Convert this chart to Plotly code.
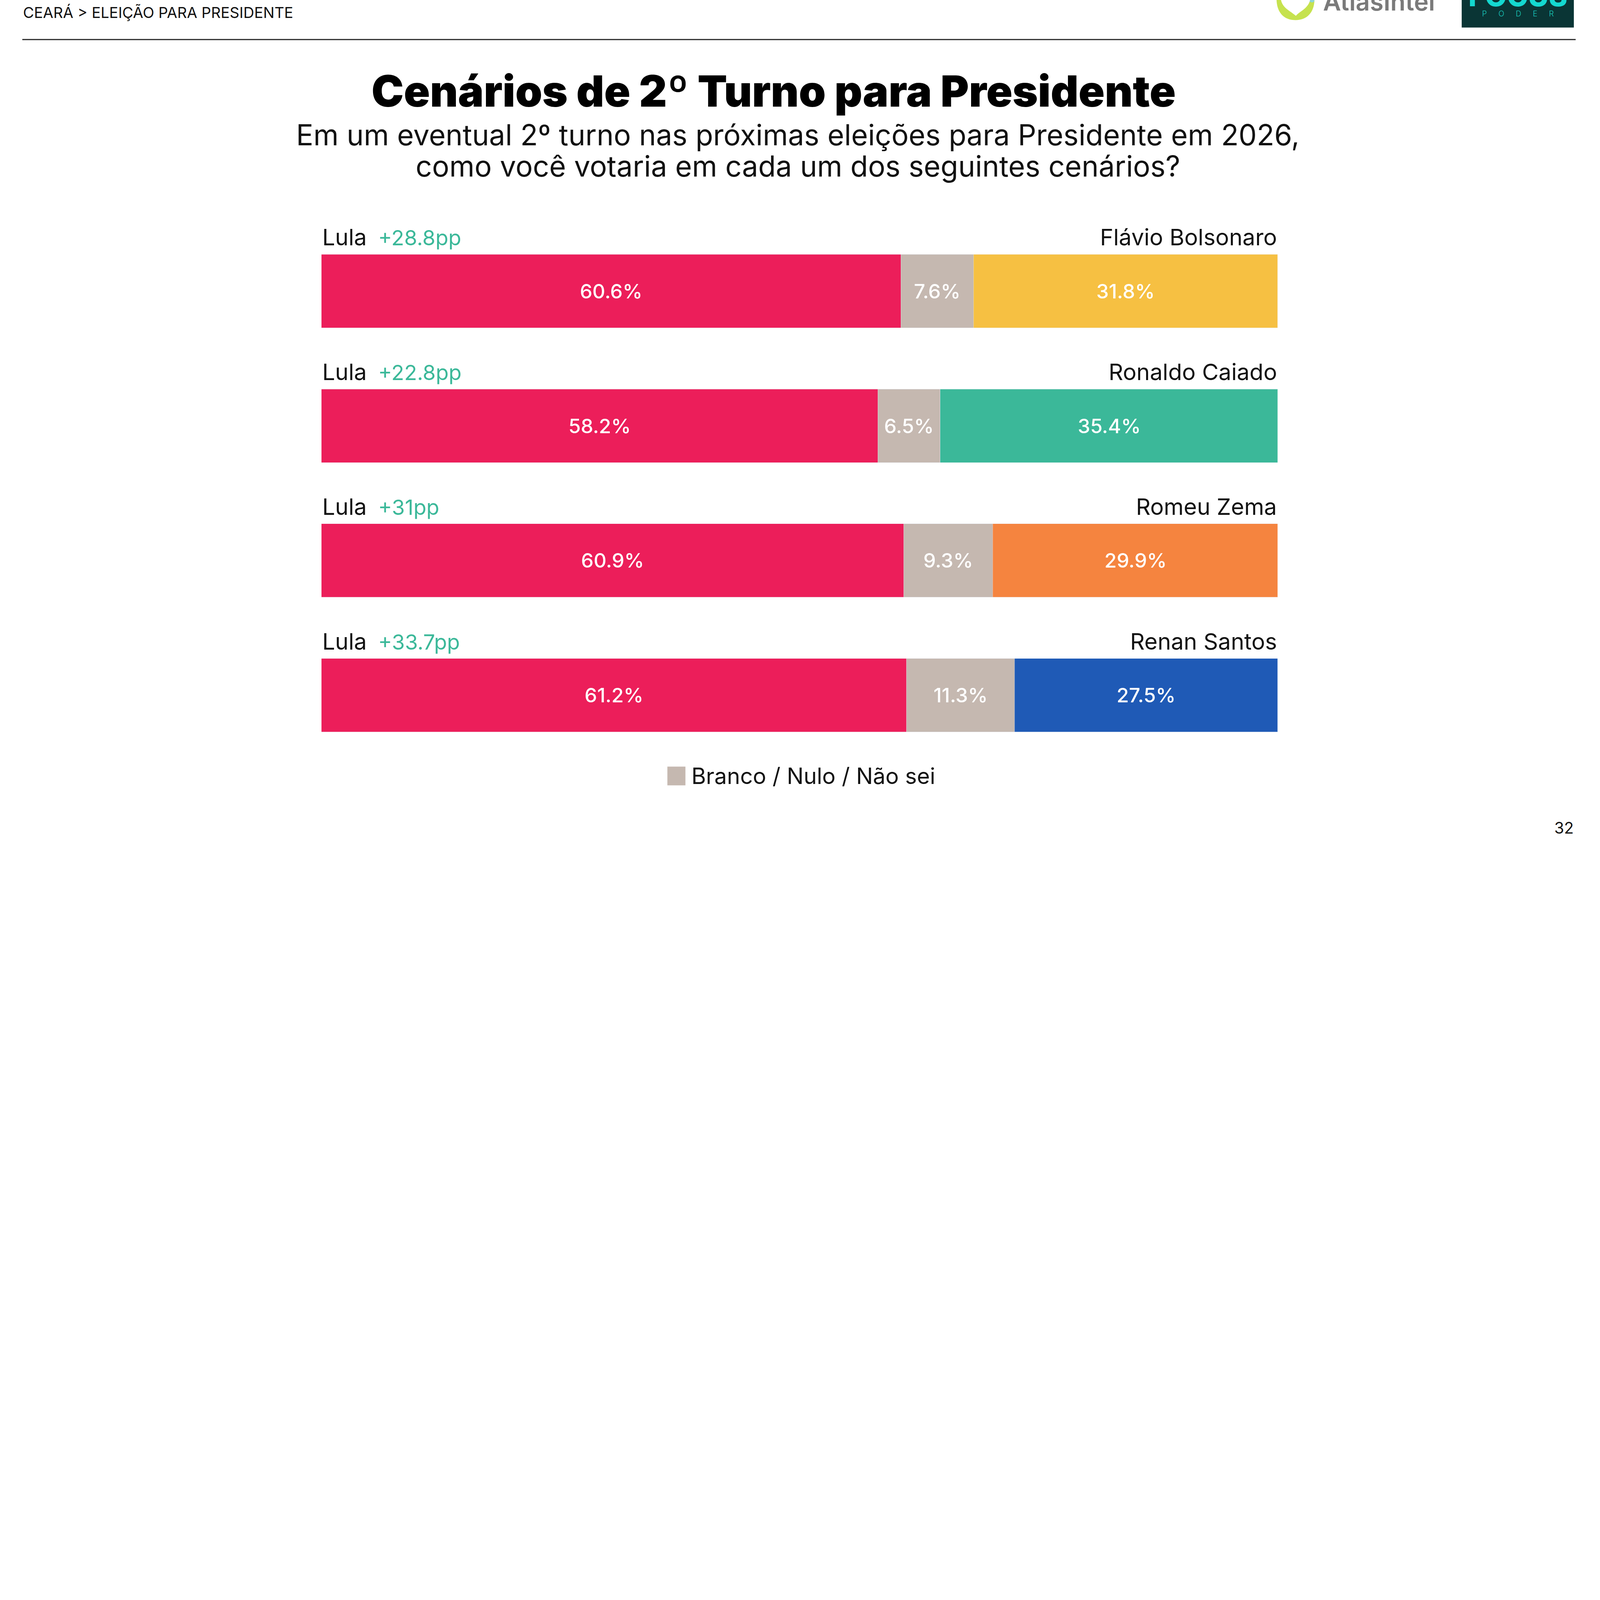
import plotly.graph_objs as go

# data
opponents = ['Flávio Bolsonaro', 'Ronaldo Caiado', 'Romeu Zema', 'Renan Santos']
lula = [60.6, 58.2, 60.9, 61.2]
branco = [7.6, 6.5, 9.3, 11.3]
opp = [31.8, 35.4, 29.9, 27.5]
margins = ['+28.8pp', '+22.8pp', '+31pp', '+33.7pp']
opp_colors = ['#f6c042', '#3bb899', '#f5843f', '#1f5ab6']
rows = [0, 1, 2, 3]

# reference pixel space; the browser viewport is clamped to 4096 css px wide
W, H = 7890, 4112
FIG_W = 4096
S = FIG_W / W
FONT = 'Inter, Lato, sans-serif'
RED = '#ec1e5a'
GRAY = '#c5b8b0'
GREEN = '#3bb899'


def px(x, y):
    # reference pixel -> paper coords
    return x / W, 1 - y / H


def fs(size):
    return round(size * S, 1)


def pct(vals):
    return ['%.1f%%' % v for v in vals]


bar_font = dict(family=FONT, size=fs(98), color='white', weight=500)

data = [
    go.Bar(y=rows, x=lula, orientation='h', name='Lula', marker_color=RED,
           text=pct(lula), textposition='inside', insidetextanchor='middle',
           textfont=bar_font, constraintext='none', width=0.545),
    go.Bar(y=rows, x=branco, orientation='h', name='Branco / Nulo / Não sei',
           marker_color=GRAY, text=pct(branco), textposition='inside',
           insidetextanchor='middle', textfont=bar_font, constraintext='none',
           width=0.545),
    go.Bar(y=rows, x=opp, orientation='h', name='Adversário',
           marker_color=opp_colors, text=pct(opp), textposition='inside',
           insidetextanchor='middle', textfont=bar_font, constraintext='none',
           width=0.545),
]

annotations = []
for i in rows:
    annotations.append(dict(
        x=0, y=i - 0.40, xref='x', yref='y', xanchor='left', yanchor='middle',
        text="Lula\u2002<span style='color:%s;font-size:%spx'>%s</span>" % (GREEN, fs(104), margins[i]),
        showarrow=False, font=dict(family=FONT, size=fs(112), color='#111111')))
    annotations.append(dict(
        x=100, y=i - 0.40, xref='x', yref='y', xanchor='right', yanchor='middle',
        text=opponents[i], showarrow=False,
        font=dict(family=FONT, size=fs(112), color='#111111')))

# header / titles
x, y = px(110, 62)
annotations.append(dict(x=x, y=y, xref='paper', yref='paper', xanchor='left', yanchor='middle',
                        text='CEARÁ &gt; ELEIÇÃO PARA PRESIDENTE', showarrow=False,
                        font=dict(family=FONT, size=fs(74), color='#111111')))
x, y = px(3815, 449)
annotations.append(dict(x=x, y=y, xref='paper', yref='paper', xanchor='center', yanchor='middle',
                        text='Cenários de 2º Turno para Presidente', showarrow=False,
                        font=dict(family=FONT, size=fs(213), color='#000000', weight=900)))
x, y = px(3935, 665)
annotations.append(dict(x=x, y=y, xref='paper', yref='paper', xanchor='center', yanchor='middle',
                        text='Em um eventual 2º turno nas próximas eleições para Presidente em 2026,',
                        showarrow=False, font=dict(family=FONT, size=fs(142), color='#111111')))
x, y = px(3935, 820)
annotations.append(dict(x=x, y=y, xref='paper', yref='paper', xanchor='center', yanchor='middle',
                        text='como você votaria em cada um dos seguintes cenários?',
                        showarrow=False, font=dict(family=FONT, size=fs(142), color='#111111')))

# legend text
x, y = px(3406, 3826)
annotations.append(dict(x=x, y=y, xref='paper', yref='paper', xanchor='left', yanchor='middle',
                        text='Branco / Nulo / Não sei', showarrow=False,
                        font=dict(family=FONT, size=fs(110), color='#111111')))

# page number
x, y = px(7765, 4082)
annotations.append(dict(x=x, y=y, xref='paper', yref='paper', xanchor='right', yanchor='middle',
                        text='32', showarrow=False,
                        font=dict(family=FONT, size=fs(78), color='#111111')))

# logos (cut off at the top of the slide)
x, y = px(6520, 85)
annotations.append(dict(x=x, y=y, xref='paper', yref='paper', xanchor='left', yanchor='bottom',
                        text='AtlasIntel', showarrow=False,
                        font=dict(family=FONT, size=fs(122), color='#7a7a7a', weight=600)))
x, y = px(7485, 70)
annotations.append(dict(x=x, y=y, xref='paper', yref='paper', xanchor='center', yanchor='bottom',
                        text='FOCUS', showarrow=False,
                        font=dict(family=FONT, size=fs(140), color='#14d8d0', weight=800)))
x, y = px(7486, 68)
annotations.append(dict(x=x, y=y, xref='paper', yref='paper', xanchor='center', yanchor='middle',
                        text='P\u2003\u2002O\u2003\u2002D\u2003\u2002E\u2003\u2002R', showarrow=False,
                        font=dict(family=FONT, size=fs(38), color='#19c9bd', weight=300)))


def path(pts):
    out = []
    for cmd, coords in pts:
        s = cmd
        for (a, b) in coords:
            xx, yy = px(a, b)
            s += ' %.5f,%.5f' % (xx, yy)
        out.append(s)
    return ' '.join(out) + ' Z'


shapes = []
x0, y0 = px(110, 195)
x1, _ = px(7770, 195)
shapes.append(dict(type='line', xref='paper', yref='paper', x0=x0, x1=x1, y0=y0, y1=y0,
                   line=dict(color='#2a2a2a', width=fs(6))))
# legend swatch
x0, y0 = px(3291, 3872)
x1, y1 = px(3380, 3780)
shapes.append(dict(type='rect', xref='paper', yref='paper', x0=x0, x1=x1, y0=y0, y1=y1,
                   fillcolor=GRAY, line_width=0))
# Focus Poder box
x0, y0 = px(7208, 136)
x1, y1 = px(7761, -5)
shapes.append(dict(type='rect', xref='paper', yref='paper', x0=x0, x1=x1, y0=y0, y1=y1,
                   fillcolor='#0a3535', line_width=0, layer='below'))
# Atlas icon
shapes.append(dict(type='path', xref='paper', yref='paper', line_width=0, fillcolor='#c6e24e',
                   path=path([('M', [(6295, -5)]),
                              ('C', [(6295, 60), (6330, 99), (6388, 99)]),
                              ('C', [(6446, 99), (6482, 60), (6482, -5)])])))
shapes.append(dict(type='path', xref='paper', yref='paper', line_width=0, fillcolor='#8dd6d8',
                   path=path([('M', [(6420, -5)]),
                              ('C', [(6450, 0), (6482, 30), (6482, -5)])])))
shapes.append(dict(type='path', xref='paper', yref='paper', line_width=0, fillcolor='white',
                   path=path([('M', [(6316, -5)]),
                              ('L', [(6461, -5)]),
                              ('C', [(6455, 40), (6410, 55), (6390, 78)]),
                              ('C', [(6365, 55), (6322, 40), (6316, -5)])])))

layout = go.Layout(
    width=FIG_W, height=round(H * S), autosize=False,
    margin=dict(l=0, r=0, t=0, b=0),
    paper_bgcolor='white', plot_bgcolor='white',
    barmode='stack', showlegend=False, hovermode=False,
    xaxis=dict(domain=[1585 / W, 6300 / W], range=[0, 100], visible=False, fixedrange=True),
    yaxis=dict(domain=[1 - 3760 / H, 1 - 1103 / H], range=[3.5, -0.5], visible=False,
               fixedrange=True),
    annotations=annotations, shapes=shapes,
    font=dict(family=FONT),
)

fig = go.Figure(data=data, layout=layout)
fig.write_html('out.html', config={'displayModeBar': False},
               post_script="document.body.style.margin='0';")
